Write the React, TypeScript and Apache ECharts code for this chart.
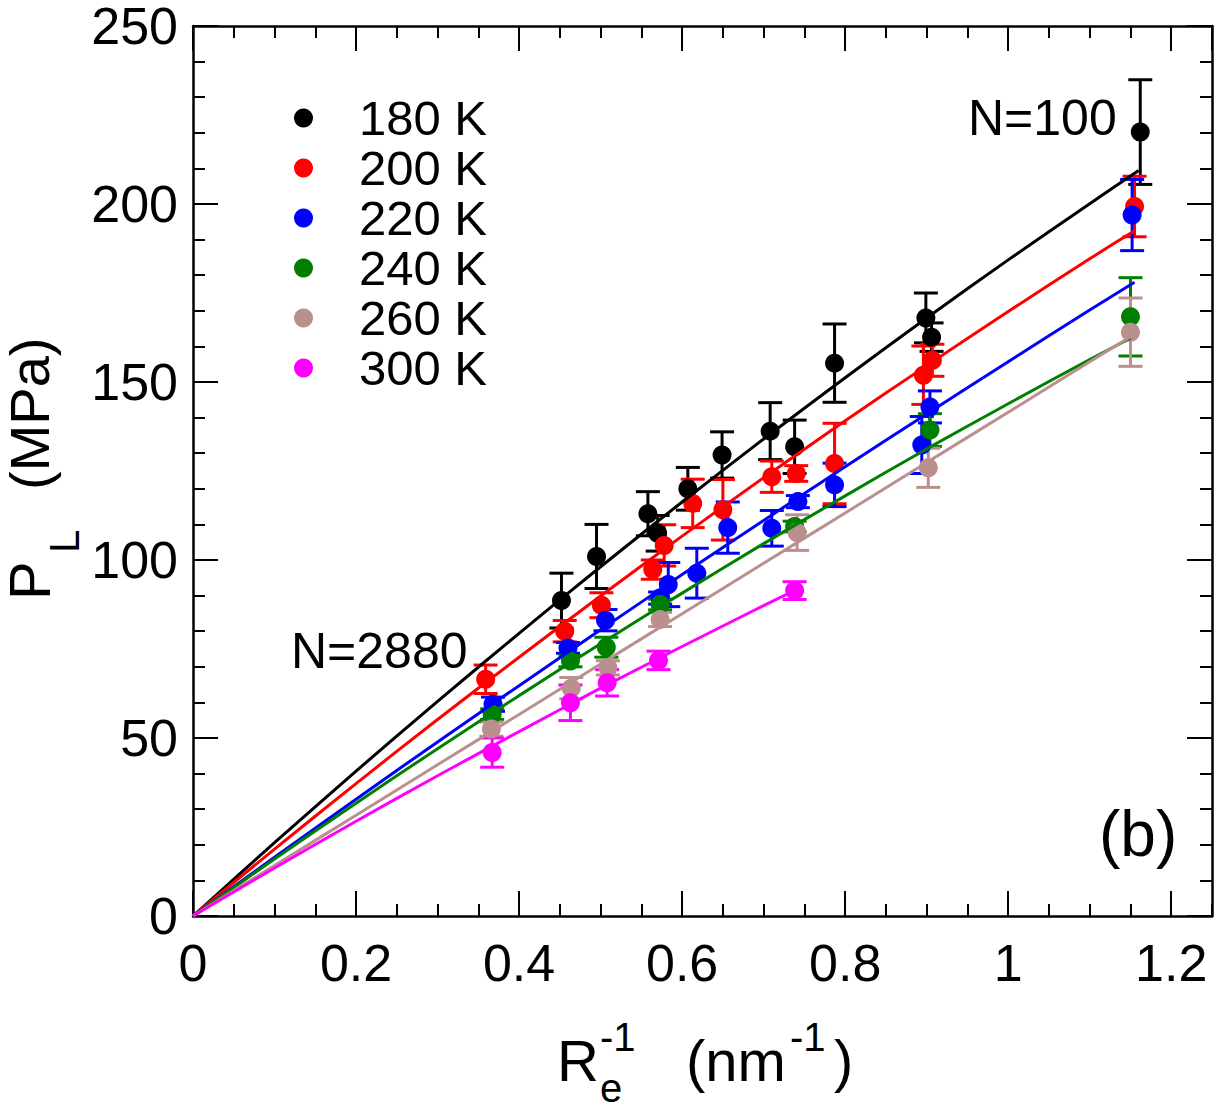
import React, { useEffect, useRef } from "react";
import * as echarts from "echarts";

const FONT = '"Liberation Sans", Arial, Helvetica, sans-serif';

const temperatures = ["180 K", "200 K", "220 K", "240 K", "260 K", "300 K"];
const colors = ["#000000", "#ff0000", "#0000ff", "#008000", "#bc8f8f", "#ff00ff"];

// 180 K
const x180 = [0.452, 0.495, 0.558, 0.570, 0.607, 0.649, 0.708, 0.738, 0.787, 0.899, 0.906, 1.162];
const y180 = [88.6, 101.0, 113.0, 107.5, 120.0, 129.5, 136.2, 131.8, 155.3, 168.0, 162.6, 220.2];
const e180 = [7.7, 9.0, 6.2, 5.0, 6.0, 6.5, 8.0, 7.5, 11.0, 7.0, 4.0, 14.7];
// 200 K
const x200 = [0.359, 0.456, 0.501, 0.564, 0.578, 0.613, 0.650, 0.710, 0.740, 0.787, 0.896, 0.907, 1.155];
const y200 = [66.5, 80.0, 87.3, 97.3, 104.1, 115.9, 114.1, 123.4, 124.3, 127.1, 151.9, 156.1, 199.3];
const e200 = [4.0, 3.0, 3.5, 2.7, 5.8, 6.8, 8.5, 4.4, 2.2, 11.3, 8.2, 4.5, 8.5];
// 220 K
const x220 = [0.368, 0.460, 0.506, 0.573, 0.583, 0.618, 0.656, 0.710, 0.742, 0.787, 0.894, 0.904, 1.152];
const y220 = [59.5, 75.3, 83.1, 89.3, 93.1, 96.3, 109.1, 108.9, 116.4, 121.1, 132.3, 143.0, 196.9];
const e220 = [2.0, 1.5, 3.0, 1.7, 6.2, 7.0, 7.2, 5.0, 1.7, 6.1, 8.0, 4.5, 10.0];
// 240 K
const x240 = [0.367, 0.463, 0.507, 0.573, 0.738, 0.904, 1.150];
const y240 = [56.7, 71.6, 75.5, 87.5, 109.4, 136.5, 168.3];
const e240 = [1.5, 1.6, 2.8, 1.5, 1.5, 4.6, 11.0];
// 260 K
const x260 = [0.366, 0.464, 0.509, 0.573, 0.741, 0.902, 1.150];
const y260 = [52.5, 64.0, 69.7, 83.3, 107.7, 125.9, 164.0];
const e260 = [2.0, 3.0, 2.0, 2.0, 5.0, 5.5, 9.6];
// 300 K
const x300 = [0.367, 0.463, 0.508, 0.571, 0.738];
const y300 = [45.9, 59.9, 65.5, 71.8, 91.4];
const e300 = [4.1, 5.0, 3.7, 2.6, 2.5];

// fit curves
const fitX180 = [0, 0.1, 0.2, 0.3, 0.4, 0.5, 0.6, 0.7, 0.8, 0.9, 1.0, 1.1, 1.16];
const fitY180 = [0, 20.6, 40.7, 60.3, 79.4, 98.1, 116.3, 134.0, 151.2, 168.0, 184.3, 200.1, 209.4];
const fitX200 = [0, 0.1, 0.2, 0.3, 0.4, 0.5, 0.6, 0.7, 0.8, 0.9, 1.0, 1.1, 1.155];
const fitY200 = [0, 18.8, 37.2, 55.2, 72.7, 89.9, 106.7, 123.1, 139.1, 154.6, 169.8, 184.6, 192.5];
const fitX220 = [0, 0.1, 0.2, 0.3, 0.4, 0.5, 0.6, 0.7, 0.8, 0.9, 1.0, 1.1, 1.155];
const fitY220 = [0, 16.5, 32.8, 48.9, 64.7, 80.4, 95.9, 111.1, 126.2, 141.0, 155.7, 170.2, 178.0];
const fitX240 = [0, 0.1, 0.2, 0.3, 0.4, 0.5, 0.6, 0.7, 0.8, 0.9, 1.0, 1.1, 1.15];
const fitY240 = [0, 16.0, 31.7, 47.0, 61.9, 76.5, 90.7, 104.6, 118.0, 131.2, 143.9, 156.3, 162.3];
const fitX260 = [0, 0.1, 0.2, 0.3, 0.4, 0.5, 0.6, 0.7, 0.8, 0.9, 1.0, 1.1, 1.15];
const fitY260 = [0, 14.2, 28.3, 42.5, 56.6, 70.8, 84.9, 99.1, 113.2, 127.4, 141.5, 155.7, 162.7];
const fitX300 = [0, 0.1, 0.2, 0.3, 0.4, 0.5, 0.6, 0.7, 0.738];
const fitY300 = [0, 13.5, 26.6, 39.4, 51.8, 64.0, 75.7, 87.2, 91.4];

const pointsX = [x180, x200, x220, x240, x260, x300];
const pointsY = [y180, y200, y220, y240, y260, y300];
const pointsE = [e180, e200, e220, e240, e260, e300];
const fitsX = [fitX180, fitX200, fitX220, fitX240, fitX260, fitX300];
const fitsY = [fitY180, fitY200, fitY220, fitY240, fitY260, fitY300];

const annotations = [
  { text: "N=100", x: 968, y: 118, size: 50 },
  { text: "N=2880", x: 291, y: 651, size: 50 },
  { text: "(b)", x: 1099, y: 834, size: 64 },
];

function buildOption() {
  const series: any[] = [];
  temperatures.forEach((t, i) => {
    const color = colors[i];
    series.push({
      type: "line",
      name: t + " fit",
      data: fitsX[i].map((x, k) => [x, fitsY[i][k]]),
      showSymbol: false,
      symbol: "none",
      smooth: 0.3,
      lineStyle: { color, width: 3, opacity: 1 },
      silent: true,
    });
    series.push({
      type: "custom",
      name: t + " err",
      data: pointsX[i].map((x, k) => [x, pointsY[i][k], pointsE[i][k]]),
      encode: { x: 0, y: 1 },
      silent: true,
      renderItem: (params: any, api: any) => {
        const x = api.value(0);
        const y = api.value(1);
        const e = api.value(2);
        const top = api.coord([x, y + e]);
        const bot = api.coord([x, y - e]);
        const hw = 12;
        const style = { stroke: color, lineWidth: 3 };
        return {
          type: "group",
          children: [
            { type: "line", shape: { x1: top[0], y1: top[1], x2: bot[0], y2: bot[1] }, style },
            { type: "line", shape: { x1: top[0] - hw, y1: top[1], x2: top[0] + hw, y2: top[1] }, style },
            { type: "line", shape: { x1: bot[0] - hw, y1: bot[1], x2: bot[0] + hw, y2: bot[1] }, style },
          ],
        };
      },
    });
    series.push({
      type: "scatter",
      name: t,
      data: pointsX[i].map((x, k) => [x, pointsY[i][k]]),
      symbol: "circle",
      symbolSize: 19,
      itemStyle: { color, opacity: 1 },
    });
  });

  const lineStyle = { color: "#000", width: 2.5 };
  const tickStyle = { color: "#000", width: 2 };

  const xMajor = (position: string, labels: boolean) => ({
    type: "value",
    position,
    min: 0,
    max: 1.25,
    interval: 0.2,
    axisLine: { show: true, onZero: false, lineStyle },
    axisTick: { show: true, inside: true, length: 25, lineStyle: tickStyle },
    axisLabel: {
      show: labels,
      fontSize: 52,
      fontFamily: FONT,
      color: "#000",
      margin: 21,
      showMaxLabel: false,
    },
    splitLine: { show: false },
  });
  const xMinor = (position: string) => ({
    type: "value",
    position,
    min: 0,
    max: 1.25,
    interval: 0.05,
    axisLine: { show: false, onZero: false },
    axisTick: { show: true, inside: true, length: 12, lineStyle: tickStyle },
    axisLabel: { show: false },
    splitLine: { show: false },
  });
  const yAxis = (position: string, labels: boolean) => ({
    type: "value",
    position,
    min: 0,
    max: 250,
    interval: 50,
    axisLine: { show: true, onZero: false, lineStyle },
    axisTick: { show: true, inside: true, length: 25, lineStyle: tickStyle },
    minorTick: { show: true, splitNumber: 5, length: 12, lineStyle: tickStyle },
    axisLabel: { show: labels, fontSize: 52, fontFamily: FONT, color: "#000", margin: 15 },
    splitLine: { show: false },
  });

  const txt = (text: string, x: number, y: number, size: number, rot = 0) => ({
    type: "text",
    x,
    y,
    rotation: rot,
    silent: true,
    style: {
      text,
      font: `${size}px ${FONT}`,
      fill: "#000",
      textAlign: "left",
      textVerticalAlign: "middle",
      verticalAlign: "middle",
    },
  });

  const graphic: any[] = [
    ...annotations.map((a) => txt(a.text, a.x, a.y, a.size)),
    // x-axis title: R_e^{-1} (nm^{-1})
    txt("R", 557, 1060, 58),
    txt("e", 600, 1088, 40),
    txt("-1", 600, 1037, 40),
    txt("(nm", 686, 1060, 58),
    txt("-1", 790, 1037, 40),
    txt(")", 834, 1060, 58),
    // y-axis title: P_L (MPa)
    txt("P", 29, 600, 58, Math.PI / 2),
    txt("L", 64, 553, 42, Math.PI / 2),
    txt("(MPa)", 29, 490, 56, Math.PI / 2),
  ];

  return {
    animation: false,
    backgroundColor: "#fff",
    textStyle: { fontFamily: FONT },
    grid: { left: 193, right: 5, top: 23, bottom: 193, containLabel: false },
    xAxis: [xMajor("bottom", true), xMinor("bottom"), xMajor("top", false), xMinor("top")],
    yAxis: [yAxis("left", true), yAxis("right", false)],
    legend: {
      data: temperatures,
      orient: "vertical",
      left: 294,
      top: 93,
      padding: 0,
      itemWidth: 19,
      itemHeight: 19,
      itemGap: 0,
      icon: "circle",
      selectedMode: false,
      itemStyle: { opacity: 1 },
      textStyle: {
        fontSize: 49,
        lineHeight: 50,
        color: "#000",
        fontFamily: FONT,
        padding: [0, 0, 0, 41],
      },
    },
    graphic,
    series,
  };
}

export default function App() {
  const ref = useRef<HTMLDivElement>(null);
  useEffect(() => {
    if (!ref.current) return;
    const chart = echarts.init(ref.current, undefined, { renderer: "svg" });
    chart.setOption(buildOption() as any);
    return () => chart.dispose();
  }, []);
  return (
    <div
      ref={ref}
      style={{ position: "absolute", left: 0, top: 0, width: 1217, height: 1109, background: "#fff" }}
    />
  );
}
